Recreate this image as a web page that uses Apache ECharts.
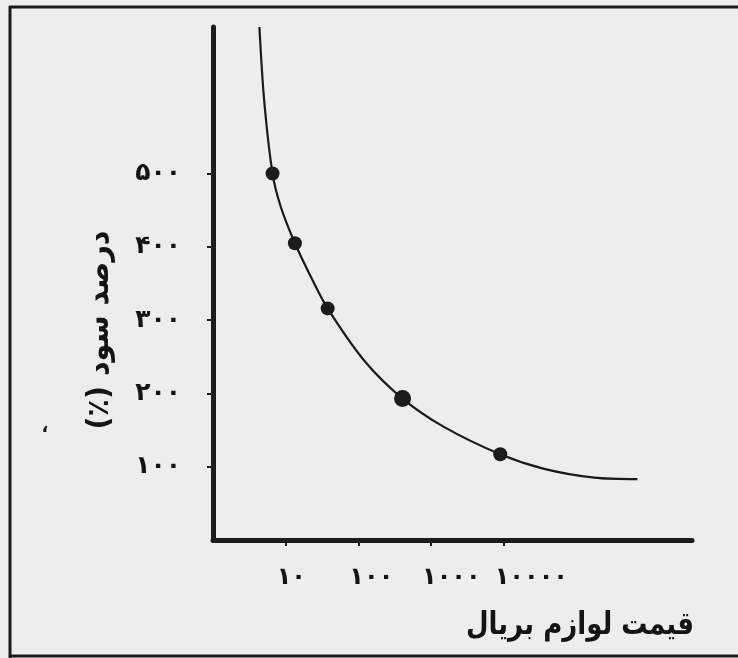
<!DOCTYPE html>
<html>
<head>
<meta charset="utf-8">
<script src="https://cdn.jsdelivr.net/npm/echarts@6/dist/echarts.min.js"></script>
<style>
html,body{margin:0;padding:0;background:#ededed;}
#chart{width:738px;height:658px;}
</style>
</head>
<body>
<div id="chart"></div>
<script>
// ---- data ----
var curvePrice  = [4.35, 5.06, 6.6, 8.6, 13.4, 22.3, 37.8, 120, 406, 1524, 8970, 36100, 176000, 692000];
var curveProfit = [700, 600, 500, 454, 405, 359, 316, 245, 193, 154, 117, 97, 85, 83];
var pointPrice  = [6.6, 13.4, 37.8, 406, 8970];
var pointProfit = [500, 405, 316, 193, 117];
var xTickValues = [10, 100, 1000, 10000];
var xTickLabels = ['۱۰', '۱۰۰', '۱۰۰۰', '۱۰۰۰۰'];
var yTickValues = [100, 200, 300, 400, 500];
var yTickLabels = ['۱۰۰', '۲۰۰', '۳۰۰', '۴۰۰', '۵۰۰'];
var yTitle = 'درصد سود (٪)';
var xTitle = 'قیمت لوازم بریال';

var FONT = 'DejaVu Sans';
var RLE = '\u202B', PDF = '\u202C';
var chart = echarts.init(document.getElementById('chart'), null, {renderer: 'canvas'});

function pairs(xs, ys) { return xs.map(function (x, i) { return [x, ys[i]]; }); }
function lookup(vals, labels) {
  return function (v) {
    for (var i = 0; i < vals.length; i++) {
      if (Math.abs(vals[i] - v) / vals[i] < 1e-6) return labels[i];
    }
    return '';
  };
}

var option = {
  backgroundColor: '#ededed',
  animation: false,
  grid: {left: 213, right: 46, top: 27, bottom: 118, containLabel: false},
  xAxis: {
    type: 'log',
    logBase: 10,
    min: 1,
    max: 3900000,
    splitLine: {show: false},
    axisLine: {show: true, onZero: false, lineStyle: {color: '#1c1c1c', width: 5}},
    axisTick: {show: true, customValues: xTickValues, length: 6, lineStyle: {color: '#1c1c1c', width: 2}},
    axisLabel: {show: true, customValues: xTickValues, formatter: lookup(xTickValues, xTickLabels),
      align: 'left', padding: [0, 0, 0, -9], fontFamily: FONT, fontWeight: 'bold', fontSize: 24,
      color: '#141414', margin: 26}
  },
  yAxis: {
    type: 'value',
    min: 0,
    max: 700,
    splitLine: {show: false},
    axisLine: {show: true, lineStyle: {color: '#1c1c1c', width: 5}},
    axisTick: {show: true, customValues: yTickValues, length: 6, lineStyle: {color: '#1c1c1c', width: 2}},
    axisLabel: {show: true, customValues: yTickValues, formatter: lookup(yTickValues, yTickLabels),
      fontFamily: FONT, fontWeight: 'bold', fontSize: 25, color: '#141414', margin: 32}
  },
  series: [
    {
      type: 'line',
      data: pairs(curvePrice, curveProfit),
      smooth: 0.3,
      showSymbol: false,
      lineStyle: {color: '#1a1a1a', width: 2.2},
      z: 2
    },
    {
      type: 'scatter',
      data: pairs(pointPrice, pointProfit),
      symbol: 'circle',
      symbolSize: function (v, p) { return p.dataIndex === 3 ? 17 : 14; },
      itemStyle: {color: '#1c1c1c', opacity: 1},
      z: 3
    }
  ],
  graphic: [
    {type: 'line', shape: {x1: 9, y1: 7, x2: 738, y2: 7}, style: {stroke: '#1a1a1a', lineWidth: 3}},
    {type: 'line', shape: {x1: 10, y1: 6, x2: 10, y2: 658}, style: {stroke: '#1a1a1a', lineWidth: 3}},
    {type: 'line', shape: {x1: 9, y1: 656, x2: 738, y2: 656}, style: {stroke: '#1a1a1a', lineWidth: 3}},
    {type: 'text', x: 100, y: 330, rotation: Math.PI / 2, scaleX: 0.95,
      style: {text: RLE + yTitle + PDF, fontFamily: FONT, fontWeight: 'bold', fontSize: 30, fill: '#141414',
        align: 'center', verticalAlign: 'middle'}},
    {type: 'text', x: 580, y: 626, scaleX: 0.84,
      style: {text: xTitle, fontFamily: FONT, fontWeight: 'bold', fontSize: 31, fill: '#141414',
        align: 'center', verticalAlign: 'middle'}},
    {type: 'text', x: 45, y: 427,
      style: {text: '،', fontFamily: FONT, fontWeight: 'bold', fontSize: 18, fill: '#1a1a1a',
        align: 'center', verticalAlign: 'middle'}}
  ]
};
chart.setOption(option);
</script>
</body>
</html>
